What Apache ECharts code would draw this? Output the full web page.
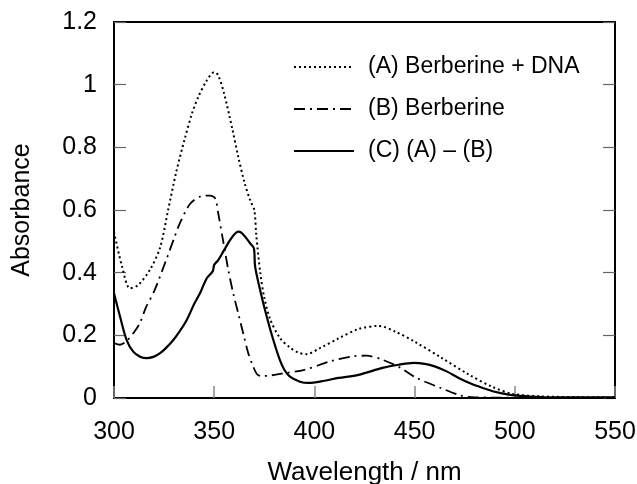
<!DOCTYPE html>
<html>
<head>
<meta charset="utf-8">
<script src="https://cdn.jsdelivr.net/npm/echarts@6/dist/echarts.min.js"></script>
<style>
  html, body { margin: 0; padding: 0; background: #fff; }
  #chart { width: 637px; height: 484px; }
</style>
</head>
<body>
<div id="chart"></div>
<script>
// (A) Berberine + DNA
var aWl  = [300, 304, 308, 312, 318, 323, 327, 331, 335, 339, 342, 346, 350, 352, 355, 359, 362, 365, 368, 370, 371, 373, 375, 378, 383, 388, 392, 396, 403, 412, 422, 432, 441, 450, 463, 477, 489, 499, 514, 530, 550];
var aAbs = [0.53, 0.42, 0.35, 0.36, 0.41, 0.48, 0.60, 0.72, 0.82, 0.91, 0.96, 1.01, 1.04, 1.03, 0.97, 0.86, 0.77, 0.69, 0.63, 0.60, 0.52, 0.40, 0.32, 0.25, 0.19, 0.16, 0.145, 0.14, 0.16, 0.19, 0.22, 0.23, 0.21, 0.18, 0.13, 0.075, 0.035, 0.013, 0.005, 0.003, 0.002];

// (B) Berberine
var bWl  = [300, 303, 306, 310, 313, 316, 320, 326, 330, 333, 338, 343, 348, 350.5, 352, 354.5, 357, 359.5, 362, 364.5, 367, 369.5, 371.5, 374, 378, 383, 395, 408, 419, 426, 434, 443, 451, 463, 473, 480, 550];
var bAbs = [0.175, 0.17, 0.18, 0.21, 0.24, 0.29, 0.34, 0.44, 0.51, 0.56, 0.62, 0.643, 0.646, 0.637, 0.59, 0.50, 0.41, 0.334, 0.27, 0.206, 0.143, 0.10, 0.075, 0.07, 0.072, 0.077, 0.09, 0.117, 0.133, 0.135, 0.122, 0.096, 0.064, 0.032, 0.008, 0.002, 0];

// (C) (A) - (B)
var cWl  = [300, 303, 306.3, 309.6, 313, 316.3, 320, 323, 326, 329.6, 333, 336.3, 340, 342.9, 346.3, 349.3, 350, 352, 354.5, 357.9, 360, 362, 363.5, 365.4, 367.9, 369.8, 370.4, 372.9, 376.2, 379.5, 382.8, 385, 387.8, 392.8, 397, 405, 412, 422, 434, 442, 449.6, 455, 460, 466, 472, 478, 484, 490, 497, 505, 514, 550];
var cAbs = [0.334, 0.26, 0.185, 0.148, 0.132, 0.127, 0.132, 0.143, 0.16, 0.185, 0.215, 0.249, 0.30, 0.334, 0.382, 0.405, 0.425, 0.44, 0.467, 0.504, 0.522, 0.531, 0.528, 0.515, 0.494, 0.478, 0.42, 0.345, 0.26, 0.185, 0.121, 0.09, 0.068, 0.052, 0.048, 0.055, 0.064, 0.074, 0.096, 0.106, 0.112, 0.109, 0.101, 0.085, 0.064, 0.046, 0.032, 0.02, 0.011, 0.006, 0.003, 0.002];

var seriesNames = ['(A) Berberine + DNA', '(B) Berberine', '(C) (A) \u2013 (B)'];

function pairs(xs, ys) {
  return xs.map(function (x, i) { return [x, ys[i]]; });
}

var chart = echarts.init(document.getElementById('chart'));
var font = 'Liberation Sans, Arial, sans-serif';

var option = {
  backgroundColor: '#fff',
  animation: false,
  grid: {
    left: 114, right: 22, top: 22, bottom: 86,
    outerBoundsMode: 'none',
    show: true, borderColor: '#000', borderWidth: 2
  },
  legend: {
    data: seriesNames,
    orient: 'vertical',
    left: 288, top: 50,
    itemWidth: 60, itemHeight: 14, itemGap: 18,
    itemStyle: { opacity: 0 },
    textStyle: { color: '#000', fontSize: 23, fontFamily: font, lineHeight: 24, padding: [0, 0, 0, 9] }
  },
  xAxis: {
    type: 'value', min: 300, max: 550, interval: 50,
    name: 'Wavelength / nm', nameLocation: 'middle', nameGap: 62,
    nameTextStyle: { color: '#000', fontSize: 26, fontFamily: font },
    axisLine: { show: false },
    axisTick: { inside: true, length: 12, lineStyle: { color: '#888', width: 1.5 } },
    axisLabel: { color: '#000', fontSize: 25, fontFamily: font, margin: 22 },
    splitLine: { show: false }
  },
  yAxis: [{
    type: 'value', min: 0, max: 1.2, interval: 0.2,
    name: 'Absorbance', nameLocation: 'middle', nameGap: 79,
    nameTextStyle: { color: '#000', fontSize: 25, fontFamily: font },
    axisLine: { show: false },
    axisTick: { inside: true, length: 12, lineStyle: { color: '#666', width: 1.2 } },
    axisLabel: { color: '#000', fontSize: 25, fontFamily: font, margin: 17 },
    splitLine: { show: false }
  }, {
    type: 'value', min: 0, max: 1.2, interval: 0.2, position: 'right',
    axisLine: { show: false },
    axisTick: { inside: true, length: 12, lineStyle: { color: '#666', width: 1.2 } },
    axisLabel: { show: false },
    splitLine: { show: false }
  }],
  series: [{
    name: seriesNames[0], type: 'line', symbol: 'none', smooth: 0.3,
    data: pairs(aWl, aAbs),
    lineStyle: { color: '#000', width: 2, type: [2, 3] }
  }, {
    name: seriesNames[1], type: 'line', symbol: 'none', smooth: 0.3,
    data: pairs(bWl, bAbs),
    lineStyle: { color: '#000', width: 1.8, type: [11, 5, 2, 5] }
  }, {
    name: seriesNames[2], type: 'line', symbol: 'none', smooth: 0.3,
    data: pairs(cWl, cAbs),
    lineStyle: { color: '#000', width: 2.2 }
  }]
};

chart.setOption(option);
</script>
</body>
</html>
